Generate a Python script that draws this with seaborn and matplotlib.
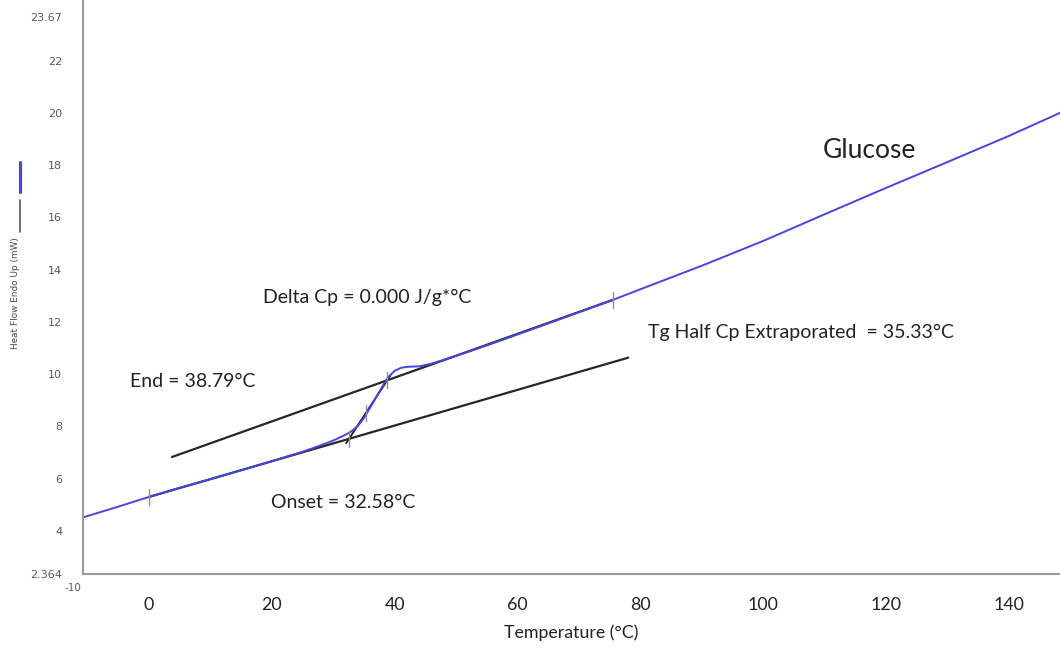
import numpy as np
import pandas as pd
import matplotlib
matplotlib.use("Agg")
import matplotlib.pyplot as plt
import seaborn as sns

# ---- data ----
temp = [-10.7, -5, 0, 5, 10, 15, 20, 25, 28, 30, 32, 33, 34, 35, 36, 37, 38, 39,
        40, 41, 42, 44, 46, 48, 50, 55, 60, 65, 70, 75.6, 80, 90, 100, 110, 120,
        130, 140, 148.3]
heat_flow = [4.52, 4.93, 5.30, 5.65, 5.98, 6.32, 6.67, 7.03, 7.28, 7.46, 7.68,
             7.82, 8.02, 8.32, 8.72, 9.13, 9.53, 9.90, 10.13, 10.24, 10.28, 10.30,
             10.40, 10.55, 10.70, 11.10, 11.52, 11.94, 12.37, 12.85, 13.25, 14.15,
             15.10, 16.12, 17.13, 18.12, 19.12, 20.0]

lower_x = [0, 78]
lower_y = [5.30, 10.63]
upper_x = [3.75, 75.6]
upper_y = [6.83, 12.85]
steep_x = [32.1, 39.3]
steep_y = [7.36, 9.95]

mark_x = [0, 32.58, 35.33, 38.79, 75.6]
mark_y = [5.30, 7.53, 8.52, 9.77, 12.85]

xticks = [0, 20, 40, 60, 80, 100, 120, 140]
yticks = [2.364, 4, 6, 8, 10, 12, 14, 16, 18, 20, 22, 23.67]
ytick_labels = ["2.364", "4", "6", "8", "10", "12", "14", "16", "18", "20", "22", "23.67"]

sns.set_style("white")
plt.rcParams['font.family'] = ['Lato', 'DejaVu Sans']

fig = plt.figure(figsize=(10.6, 6.48), dpi=100)
ax = fig.add_axes([0.0783, 0.1147, 0.9217, 0.8853])

blue = "#4646dc"
dark = "#262626"

sns.lineplot(x=lower_x, y=lower_y, ax=ax, color=dark, lw=1.6)
sns.lineplot(x=upper_x, y=upper_y, ax=ax, color=dark, lw=1.6)
sns.lineplot(x=steep_x, y=steep_y, ax=ax, color=dark, lw=1.4)
df = pd.DataFrame({"T": temp, "HF": heat_flow})
sns.lineplot(data=df, x="T", y="HF", ax=ax, color=blue, lw=1.4, sort=False)

for mx, my in zip(mark_x, mark_y):
    ax.plot([mx, mx], [my - 0.3, my + 0.3], color="#909090", lw=1.0)

ax.set_xlim(-10.74, 148.3)
ax.set_ylim(2.364, 24.32)

for s in ["top", "right"]:
    ax.spines[s].set_visible(False)
for s in ["left", "bottom"]:
    ax.spines[s].set_color("#9a9a9a")
    ax.spines[s].set_linewidth(1.5)

ax.set_xticks(xticks)
ax.set_xticklabels([str(t) for t in xticks], fontsize=12.8, color="#222222")
ax.set_yticks(yticks)
ax.set_yticklabels(ytick_labels, fontsize=8, color="#5a5a5a",
                   family=['DejaVu Sans'])
ax.tick_params(axis='x', direction='out', length=3, width=0.8, color="#bbbbbb", pad=14)
ax.tick_params(axis='y', direction='out', length=4, width=0.8, color="#999999", pad=11)
ax.set_xlabel("Temperature (°C)", fontsize=12.8, color="#222222", labelpad=8)
ax.set_ylabel("")

ax.text(-12.4, 2.0, "-10", fontsize=7.5, color="#5a5a5a", family=['DejaVu Sans'],
        ha="center", va="top", clip_on=False)

# y-axis title with legend bars
fig.text(0.0142, 0.548, "Heat Flow Endo Up (mW)", rotation=90, fontsize=6.4,
         color="#444444", family=['DejaVu Sans Condensed', 'DejaVu Sans'],
         ha="center", va="center")
fig.add_artist(plt.Line2D([0.0189, 0.0189], [1 - 192 / 648, 1 - 162 / 648],
                          color=blue, lw=2.3, transform=fig.transFigure))
fig.add_artist(plt.Line2D([0.0189, 0.0189], [1 - 232 / 648, 1 - 200 / 648],
                          color="#666666", lw=1.3, transform=fig.transFigure))

tkw = dict(fontsize=14, color="#222222", va="center", ha="left")
ax.text(18.56, 12.93, "Delta Cp = 0.000 J/g*°C", **tkw)
ax.text(-3.09, 9.71, "End = 38.79°C", **tkw)
ax.text(19.86, 5.07, "Onset = 32.58°C", **tkw)
ax.text(81.24, 11.59, "Tg Half Cp Extraporated  = 35.33°C", **tkw)
ax.text(109.7, 18.55, "Glucose", fontsize=19, color="#222222", va="center", ha="left")

fig.savefig("out.png", dpi=100)
